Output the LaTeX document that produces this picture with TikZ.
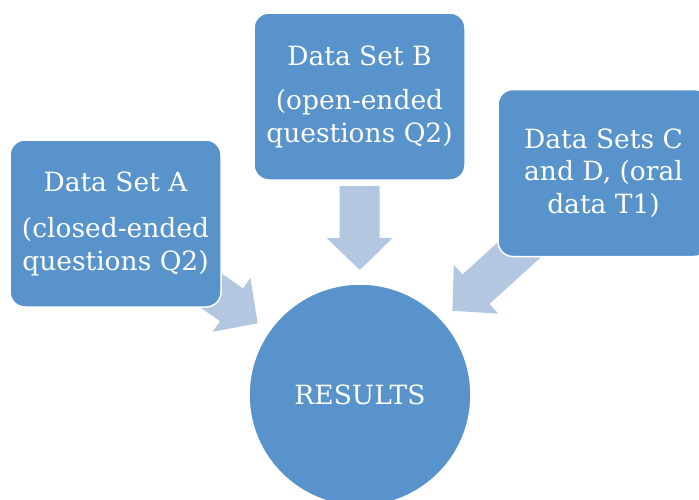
\documentclass[tikz,border=0pt]{standalone}
\usepackage{fontspec}
\setmainfont{DejaVu Serif}
\usetikzlibrary{calc,backgrounds}
\definecolor{boxblue}{RGB}{89,147,203}
\definecolor{arrowblue}{RGB}{180,199,225}
\newcommand\blockarrow[2]{%
  \coordinate (#1tip) at ($(res.center)!125pt!(#1.center)$);
  \coordinate (#1hb) at ($(res.center)!157pt!(#1.center)$);
  \coordinate (#1tl) at ($(res.center)!#2!(#1.center)$);
  \fill[arrowblue] (#1tip) -- ($(#1hb)!33pt!90:(res.center)$) -- ($(#1hb)!20pt!90:(res.center)$)
    -- ($(#1tl)!20pt!90:(res.center)$) -- ($(#1tl)!20pt!-90:(res.center)$)
    -- ($(#1hb)!20pt!-90:(res.center)$) -- ($(#1hb)!33pt!-90:(res.center)$) -- cycle;}
\begin{document}
\begin{tikzpicture}[x=1pt,y=-1pt,
  txt/.style={text=white, font=\fontsize{26.5}{32.5}\selectfont},
  databox/.style={txt, rounded corners=15pt, fill=boxblue, draw=white, line width=1.5pt,
    minimum width=211pt, minimum height=167pt, align=center, inner sep=0pt},
  resultcircle/.style={txt, circle, fill=boxblue, draw=white, line width=1.5pt,
    minimum size=222pt, inner sep=0pt}]
\useasboundingbox (0,0) rectangle (699,499);
\node[databox] (a) at (115.5,223.5) {Data Set A\\[14pt](closed-ended\\questions Q2)};
\node[databox] (b) at (359.5,96.5) {Data Set B\\[12pt](open-ended\\questions Q2)};
\node[databox] (c) at (603.5,173) {\rule{0pt}{8pt}Data Sets C\\and D, (oral\\data T1)};
\node[resultcircle] (res) at (360,395) {RESULTS};
\begin{scope}[on background layer]
  \blockarrow{a}{230pt}
  \blockarrow{b}{209pt}
  \blockarrow{c}{240pt}
\end{scope}
\end{tikzpicture}
\end{document}
